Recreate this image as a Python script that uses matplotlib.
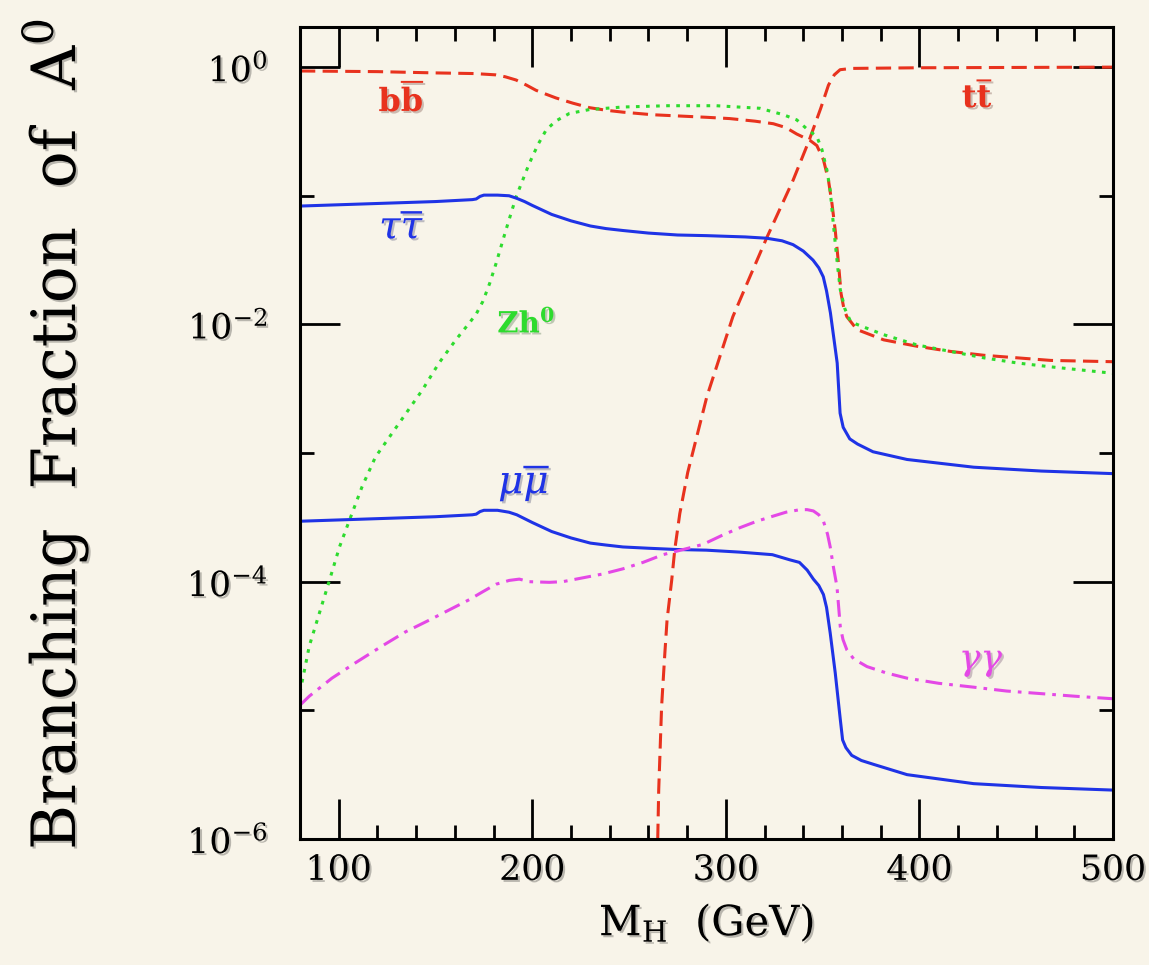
import math
import numpy as np
import matplotlib
matplotlib.use("Agg")
import matplotlib.pyplot as plt
import matplotlib.patheffects as pe
from matplotlib.ticker import FixedLocator, FuncFormatter, NullFormatter

# log10 of the branching fractions; mass in GeV
m_bb = [80, 120, 150, 170, 181, 186, 191.6, 197, 201.9, 207, 212.3, 220.9, 229.5, 238, 246.8,
        262, 290, 302, 315, 324.5, 331, 336.6, 343.5, 347, 350.4, 353, 354.8, 356.5, 358.2,
        359.5, 361, 362.5, 367.7, 381.5, 398.8, 416, 433.3, 450.6, 467.9, 500]
log_bb = [-0.03, -0.035, -0.045, -0.05, -0.06, -0.075, -0.10, -0.14, -0.18, -0.21, -0.24,
          -0.28, -0.315, -0.335, -0.35, -0.37, -0.39, -0.40, -0.42, -0.44, -0.47, -0.52, -0.57,
          -0.61, -0.72, -0.88, -1.06, -1.27, -1.53, -1.76, -1.88, -1.94, -2.04, -2.12, -2.17,
          -2.21, -2.24, -2.26, -2.28, -2.29]

m_tt = [264.8, 265.3, 266.8, 267.4, 268.5, 269.6, 272, 273.6, 276.2, 280.3, 285, 290.2, 296.9,
        303.6, 312.4, 321, 328, 334.7, 343, 349, 353, 356, 359, 365, 400, 500]
log_tt = [-6.0, -5.62, -4.97, -4.82, -4.55, -4.30, -3.99, -3.75, -3.47, -3.15, -2.87, -2.56,
          -2.25, -1.94, -1.63, -1.33, -1.10, -0.88, -0.57, -0.32, -0.14, -0.06, -0.02, -0.01,
          -0.005, 0.0]

m_zh = [80, 84.8, 90.1, 95.2, 100.4, 105.6, 112.1, 119, 131.1, 143.2, 151.8, 160.5, 167.4,
        171, 174.5, 178, 181.2, 186.3, 191.6, 198.4, 203, 207.1, 212, 219.2, 229.5, 246.8, 270,
        295, 317.6, 329.7, 336.6, 341.8, 347, 349.6, 352.2, 353.9, 355.2, 356.5, 357.8, 359.1,
        361.5, 364.2, 367.7, 381.5, 398.8, 416, 433.3, 450.6, 467.9, 500]
log_zh = [-4.86, -4.50, -4.24, -3.99, -3.73, -3.52, -3.26, -3.03, -2.77, -2.51, -2.30, -2.12,
          -1.99, -1.92, -1.82, -1.68, -1.53, -1.27, -1.01, -0.75, -0.60, -0.49, -0.42, -0.36,
          -0.33, -0.31, -0.30, -0.30, -0.32, -0.37, -0.41, -0.48, -0.54, -0.64, -0.80, -0.96,
          -1.17, -1.37, -1.56, -1.73, -1.88, -1.97, -2.00, -2.08, -2.16, -2.21, -2.26, -2.30,
          -2.33, -2.38]

m_tau = [80, 100, 130, 150, 169, 171, 173, 175, 182, 188, 192, 196, 200, 205, 210, 215, 220,
         225, 230, 238, 246.8, 260, 275, 290, 310, 321, 329, 334.7, 340, 345, 348, 350.3, 352,
         354, 357.5, 359, 360.6, 364, 368, 376, 393.6, 428, 463, 500]
log_tau = [-1.08, -1.07, -1.055, -1.045, -1.03, -1.025, -1.005, -0.995, -0.995, -1.00, -1.02,
           -1.045, -1.075, -1.11, -1.145, -1.17, -1.195, -1.215, -1.235, -1.255, -1.27, -1.29,
           -1.305, -1.31, -1.32, -1.33, -1.35, -1.38, -1.43, -1.50, -1.56, -1.63, -1.74, -1.91,
           -2.30, -2.69, -2.80, -2.89, -2.93, -2.99, -3.05, -3.11, -3.14, -3.16]

m_mu = [80, 100, 130, 150, 169, 171, 173, 175, 182, 188, 192, 196, 200, 205, 210, 215, 220,
        225, 230, 238, 246.8, 260, 275, 290, 307, 324, 333, 338, 342, 345.2, 348, 350.4, 352,
        353.9, 356.5, 359.1, 360.3, 362, 365, 370, 376.3, 393.6, 428, 463, 500]
log_mu = [-3.53, -3.52, -3.505, -3.495, -3.48, -3.475, -3.455, -3.445, -3.445, -3.46, -3.48,
          -3.51, -3.54, -3.575, -3.61, -3.635, -3.66, -3.68, -3.70, -3.715, -3.73, -3.74, -3.75,
          -3.755, -3.77, -3.79, -3.83, -3.85, -3.91, -3.98, -4.03, -4.10, -4.20, -4.40, -4.71,
          -5.07, -5.23, -5.29, -5.35, -5.39, -5.42, -5.50, -5.57, -5.60, -5.62]

m_gg = [80, 84.8, 96.5, 108.7, 122.4, 134.5, 146.6, 157, 167.4, 174.2, 181.2, 188.1, 193.3,
        198.4, 208.8, 215.7, 226.1, 236.4, 246.8, 257.2, 267.5, 277.9, 288.2, 298, 307.3, 316,
        324.5, 331, 338.3, 342, 345.2, 348, 350.4, 352.5, 353.9, 355.6, 357.4, 359.1, 360.5,
        362.5, 366, 372.9, 383, 393.6, 410, 428, 445, 462.7, 480, 500]
log_gg = [-4.96, -4.89, -4.75, -4.63, -4.50, -4.39, -4.30, -4.22, -4.14, -4.08, -4.02, -3.99,
          -3.98, -4.00, -4.005, -4.00, -3.97, -3.94, -3.90, -3.85, -3.79, -3.75, -3.71, -3.64,
          -3.58, -3.53, -3.49, -3.46, -3.44, -3.44, -3.45, -3.48, -3.53, -3.63, -3.73, -3.89,
          -4.04, -4.35, -4.45, -4.53, -4.60, -4.66, -4.71, -4.75, -4.79, -4.82, -4.85, -4.87,
          -4.89, -4.91]

x_major = [100, 200, 300, 400, 500]
x_minor = [80, 120, 140, 160, 180, 220, 240, 260, 280, 320, 340, 360, 380, 420, 440, 460, 480]
y_major = [1e-6, 1e-4, 1e-2, 1e0]
y_minor = [1e-5, 1e-3, 1e-1]

plt.rcParams["font.family"] = ["DejaVu Serif"]
plt.rcParams["mathtext.fontset"] = "dejavuserif"

bg = "#F8F4E9"
red = "#E8321E"
green = "#2EDB2E"
blue = "#1F33E6"
magenta = "#E448E6"
shadow = [pe.withSimplePatchShadow(offset=(1.5, -1.5), alpha=0.25)]

fig = plt.figure(figsize=(11.49, 9.65), dpi=100, facecolor=bg)
ax = fig.add_axes([0.2611, 0.1306, 0.7076, 0.8414], facecolor=bg)

def br(logs):
    return np.power(10.0, np.array(logs))

lw = 2.2
ax.plot(m_bb, br(log_bb), color=red, lw=lw, dashes=(5, 2.4))
ax.plot(m_tt, br(log_tt), color=red, lw=lw, dashes=(5, 2.4))
ax.plot(m_zh, br(log_zh), color=green, lw=lw, dashes=(1.2, 2.1))
ax.plot(m_tau, br(log_tau), color=blue, lw=lw)
ax.plot(m_mu, br(log_mu), color=blue, lw=lw)
ax.plot(m_gg, br(log_gg), color=magenta, lw=lw, dashes=(5.5, 2.3, 1.2, 2.3))

ax.set_yscale("log")
ax.set_xlim(80, 500)
ax.set_ylim(1e-6, 2.05)

ax.xaxis.set_major_locator(FixedLocator(x_major))
ax.xaxis.set_minor_locator(FixedLocator(x_minor))
ax.yaxis.set_major_locator(FixedLocator(y_major))
ax.yaxis.set_minor_locator(FixedLocator(y_minor))
ax.yaxis.set_major_formatter(FuncFormatter(lambda v, pos: r"$10^{%d}$" % round(math.log10(v))))
ax.yaxis.set_minor_formatter(NullFormatter())
ax.xaxis.set_minor_formatter(NullFormatter())

ax.tick_params(which="both", direction="in", top=True, right=True, width=2, colors="black")
ax.tick_params(which="major", length=29, labelsize=25, pad=10)
ax.tick_params(axis="y", which="major", pad=23)
ax.tick_params(which="minor", length=10)
for s in ax.spines.values():
    s.set_linewidth(2.2)
for lab in ax.get_xticklabels() + ax.get_yticklabels():
    lab.set_path_effects(shadow)

ax.set_xlabel(r"M$_\mathregular{H}$  (GeV)", fontsize=30, labelpad=10, path_effects=shadow)
fig.text(0.048, 0.55, r"Branching  Fraction  of  A$^0$", rotation=90, fontsize=44,
         ha="center", va="center", path_effects=shadow)

lab_kw = dict(ha="center", va="center", path_effects=shadow)
ax.text(132.6, 0.554, r"$\mathbf{b}\overline{\mathbf{b}}$", color=red, fontsize=23, **lab_kw)
ax.text(430, 0.585, r"$\mathbf{t}\overline{\mathbf{t}}$", color=red, fontsize=23, **lab_kw)
ax.text(132.6, 0.056, r"$\tau\overline{\tau}$", color=blue, fontsize=28, **lab_kw)
ax.text(196.9, 0.0102, r"$\mathbf{Zh}^\mathbf{0}$", color=green, fontsize=21, **lab_kw)
ax.text(195.9, 5.9e-4, r"$\mu\overline{\mu}$", color=blue, fontsize=28, **lab_kw)
ax.text(432, 2.4e-5, r"$\gamma\gamma$", color=magenta, fontsize=26, **lab_kw)

fig.savefig("out.png", dpi=100, facecolor=bg)
